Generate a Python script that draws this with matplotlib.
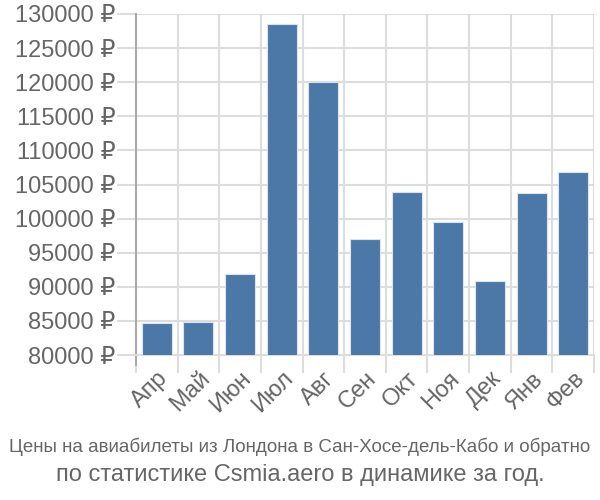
import matplotlib
matplotlib.use("Agg")
import matplotlib.pyplot as plt
import numpy as np

months = ["Апр", "Май", "Июн", "Июл", "Авг", "Сен", "Окт", "Ноя", "Дек", "Янв", "Фев"]
prices = [84700, 84900, 91900, 128500, 120000, 97050, 103950, 99550, 90850, 103750, 106900]
yticks = list(range(80000, 130001, 5000))
title_lines = ["Цены на авиабилеты из Лондона в Сан-Хосе-дель-Кабо и обратно",
               "по статистике Csmia.aero в динамике за год."]

plt.rcParams['font.family'] = ['Liberation Sans', 'DejaVu Sans']

fig = plt.figure(figsize=(6, 5), dpi=100)
ax = fig.add_axes([136/600, 1-355/500, (594-136)/600, (355-14)/500])

x = np.arange(len(months))
ax.bar(x, prices, width=0.72, color="#4c78a8", edgecolor="#dbe4ee", linewidth=0.8, zorder=3)

ax.set_xlim(-0.5, len(months)-0.5)
ax.set_ylim(80000, 130000)
ax.set_yticks(yticks)
ax.set_yticklabels([f"{v} ₽" for v in yticks], fontsize=17, color="#666666")
ax.set_xticks(x)
ax.set_xticklabels(months, rotation=45, ha="right", rotation_mode="anchor",
                   fontsize=17, color="#666666")
ax.set_xticks(np.arange(-0.5, len(months), 1), minor=True)
ax.tick_params(axis="x", which="major", length=0, pad=9)
ax.tick_params(axis="x", which="minor", length=13, color="#dddddd", width=1.5)
ax.tick_params(axis="y", length=14, color="#dddddd", width=1.5, pad=1)

ax.grid(axis="y", which="major", color="#dddddd", linewidth=1.5, zorder=0)
ax.grid(axis="x", which="minor", color="#dddddd", linewidth=1.5, zorder=0)
ax.set_axisbelow(True)

for s in ["top", "right"]:
    ax.spines[s].set_visible(False)
ax.spines["left"].set_color("#aaaaaa")
ax.spines["left"].set_linewidth(1.5)
ax.spines["left"].set_bounds(78500, 130000)
ax.spines["bottom"].set_color("#dddddd")
ax.spines["bottom"].set_linewidth(1.5)

fig.text(0.5, 1-447/500, title_lines[0], ha="center", va="center", fontsize=13.5,
         color="#666666")
fig.text(0.5, 1-475/500, title_lines[1], ha="center", va="center", fontsize=17,
         color="#666666")

fig.savefig("out.png", dpi=100)
